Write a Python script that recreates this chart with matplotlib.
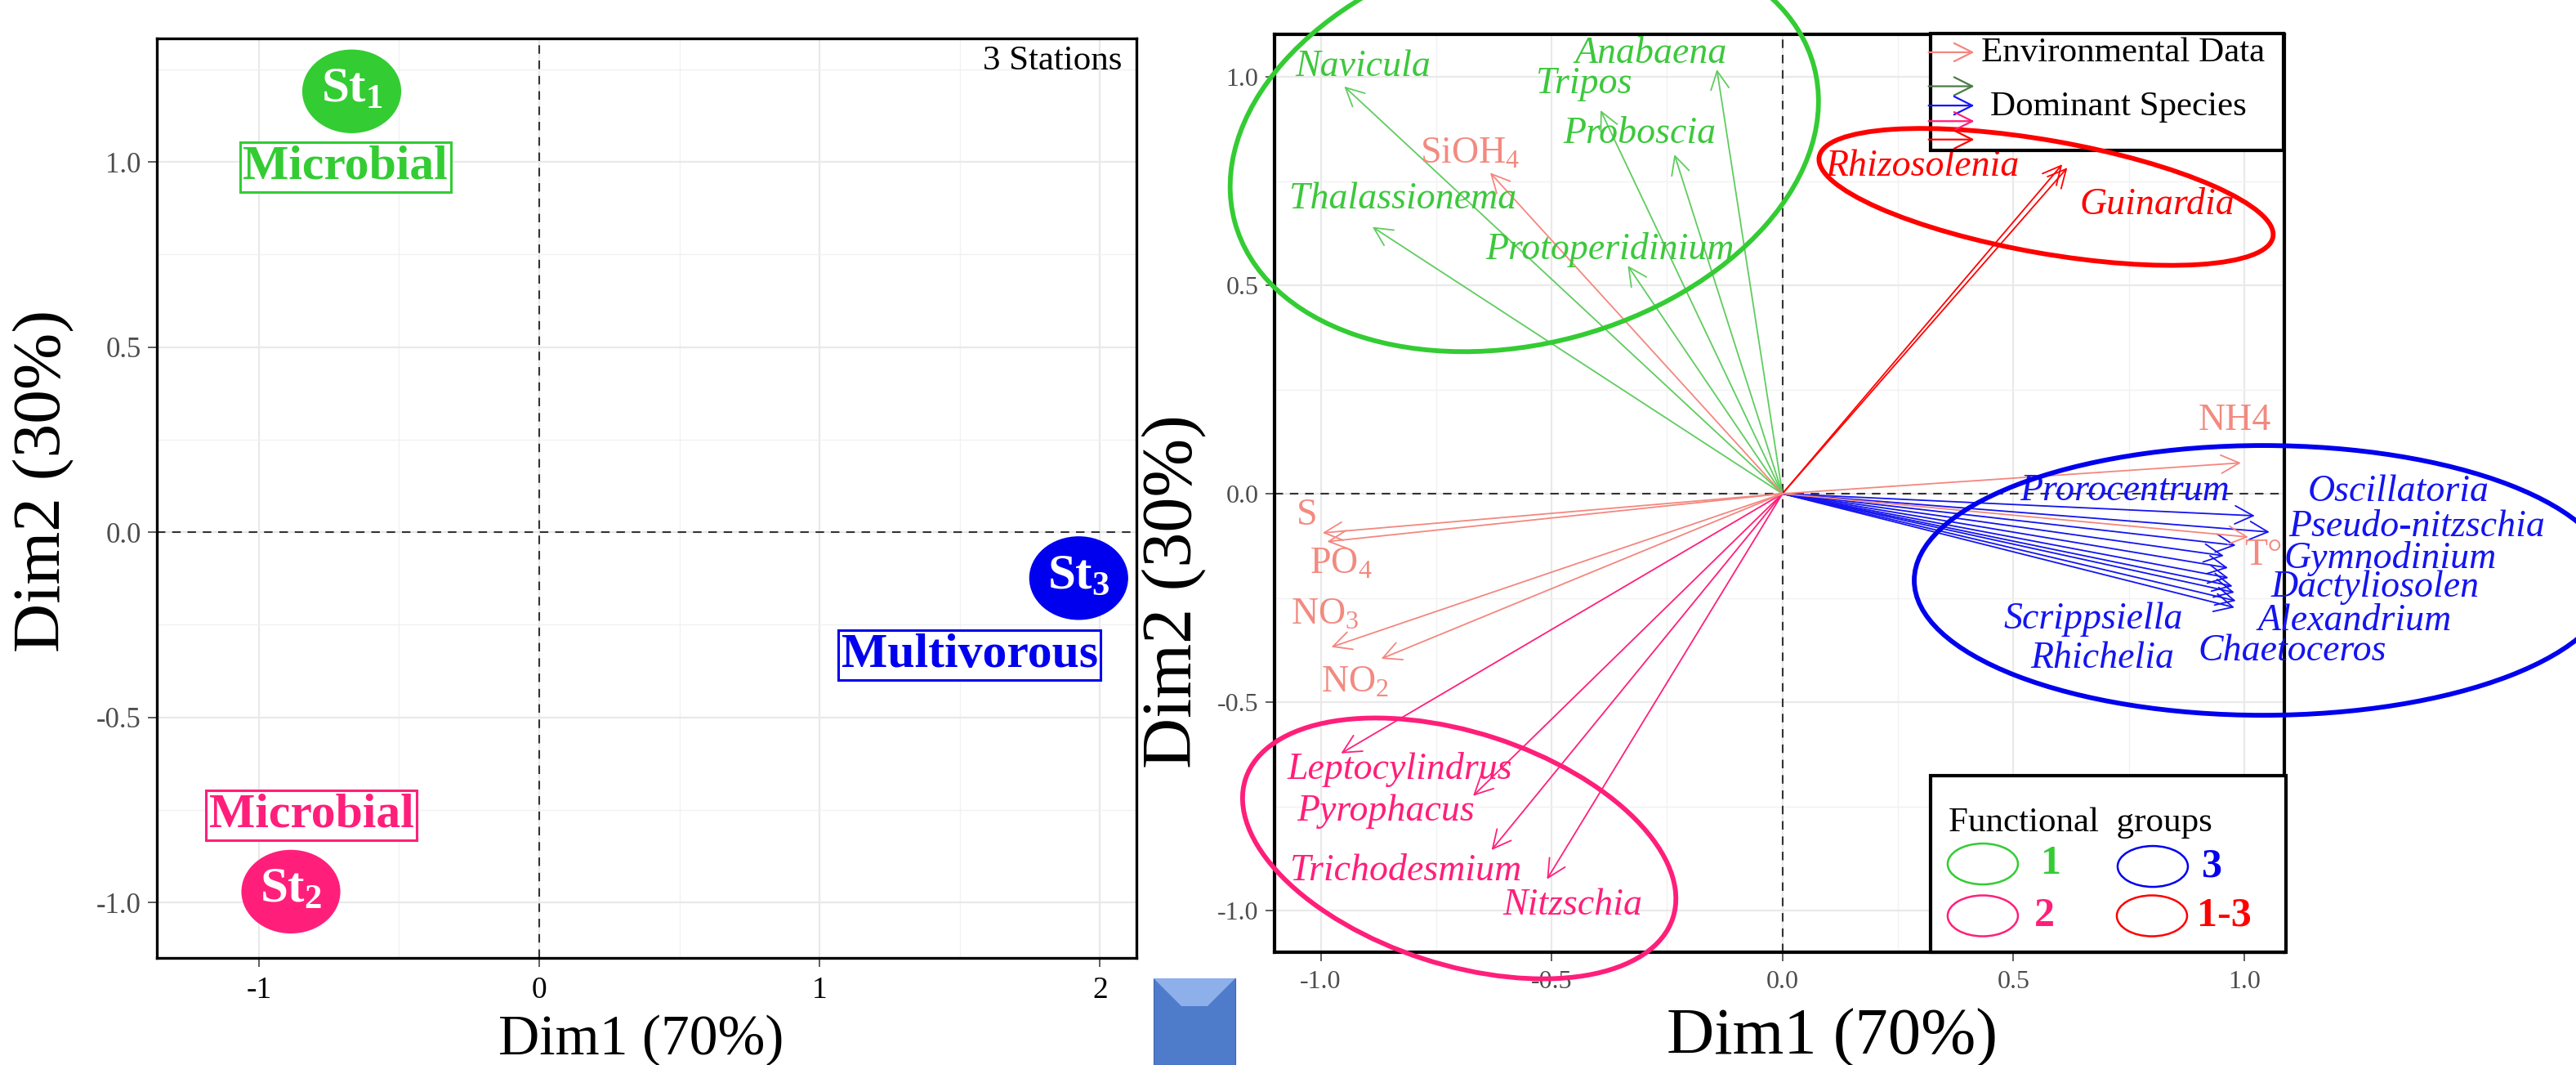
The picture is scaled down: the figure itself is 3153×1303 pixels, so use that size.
import matplotlib.pyplot as plt
from matplotlib.patches import Ellipse, Rectangle, Polygon
from matplotlib.transforms import ScaledTranslation

plt.rcParams['font.family'] = ['Liberation Serif', 'DejaVu Serif']
plt.rcParams['mathtext.fontset'] = 'custom'
plt.rcParams['mathtext.rm'] = 'Liberation Serif'
plt.rcParams['mathtext.it'] = 'Liberation Serif:italic'
plt.rcParams['mathtext.bf'] = 'Liberation Serif:bold'

# ---------------- data: left panel (stations) ----------------
station_names = [r"$\mathbf{St_1}$", r"$\mathbf{St_2}$", r"$\mathbf{St_3}$"]
station_x = [-0.669, -0.886, 1.924]
station_y = [1.191, -0.971, -0.124]
feeding_names = ["Microbial", "Microbial", "Multivorous"]
feeding_x = [-0.692, -0.812, 1.535]
feeding_y = [0.986, -0.765, -0.332]
station_colors = ["#33cc33", "#ff1f7a", "#0000ee"]

# ---------------- data: right panel (variables) ----------------
env_names = ["S", r"PO$_4$", r"NO$_3$", r"NO$_2$", r"SiOH$_4$", "NH4", "T°"]
env_x = [-0.996, -0.986, -0.977, -0.869, -0.633, 0.993, 1.009]
env_y = [-0.094, -0.115, -0.368, -0.396, 0.770, 0.074, -0.104]
env_lab_x = [-1.030, -0.956, -0.991, -0.925, -0.676, 0.979, 1.041]
env_lab_y = [-0.052, -0.169, -0.292, -0.453, 0.814, 0.175, -0.149]

g1_names = ["Navicula", "Anabaena", "Tripos", "Proboscia", "Thalassionema", "Protoperidinium"]
g1_x = [-0.949, -0.142, -0.394, -0.234, -0.888, -0.335]
g1_y = [0.977, 1.018, 0.920, 0.814, 0.640, 0.547]
g1_lab_x = [-0.908, -0.285, -0.430, -0.310, -0.822, -0.374]
g1_lab_y = [1.024, 1.055, 0.983, 0.863, 0.706, 0.586]

g2_names = ["Leptocylindrus", "Pyrophacus", "Trichodesmium", "Nitzschia"]
g2_x = [-0.956, -0.670, -0.630, -0.510]
g2_y = [-0.623, -0.725, -0.855, -0.925]
g2_lab_x = [-0.828, -0.860, -0.815, -0.454]
g2_lab_y = [-0.661, -0.763, -0.906, -0.988]

g3_x = [1.023, 1.055, 0.982, 0.956, 0.965, 0.966, 0.975, 0.979, 0.982, 0.979]
g3_y = [-0.053, -0.092, -0.124, -0.149, -0.178, -0.202, -0.222, -0.237, -0.257, -0.273]
g3_names = ["Prorocentrum", "Oscillatoria", "Pseudo-nitzschia", "Gymnodinium", "Dactyliosolen",
            "Alexandrium", "Chaetoceros", "Scrippsiella", "Rhichelia"]
g3_lab_x = [0.741, 1.335, 1.374, 1.317, 1.284, 1.239, 1.105, 0.674, 0.693]
g3_lab_y = [0.006, 0.004, -0.080, -0.155, -0.225, -0.306, -0.378, -0.301, -0.395]

g13_names = ["Rhizosolenia", "Guinardia"]
g13_x = [0.606, 0.617]
g13_y = [0.790, 0.782]
g13_lab_x = [0.303, 0.812]
g13_lab_y = [0.784, 0.692]

c_env, c_env_txt = "#f4877f", "#f28a80"
c_g1, c_g1_line = "#3cc83c", "#5fcc5f"
c_g2 = "#ff1f7a"
c_g3 = "#1414f0"
c_g13 = "#ff0000"

fig = plt.figure(figsize=(31.53, 13.03), dpi=100)
W, H = 3153, 1303


def style_axes(ax, lw, xcol, ycol, fs):
    ax.grid(True, which="major", color="#e9e9e9", lw=1.6, zorder=0)
    ax.grid(True, which="minor", color="#f1f1f1", lw=1.0, zorder=0)
    ax.set_axisbelow(True)
    ax.tick_params(which="minor", length=0)
    ax.tick_params(axis="x", colors="#444444", labelcolor=xcol, labelsize=fs, length=8, width=1.2, pad=8)
    ax.tick_params(axis="y", colors="#444444", labelcolor=ycol, labelsize=fs, length=8, width=1.2, pad=6)
    for s in ax.spines.values():
        s.set_linewidth(lw)
        s.set_color("black")
    ax.axhline(0, color="#333333", lw=1.5, ls=(0, (5, 4)), zorder=1)
    ax.axvline(0, color="#333333", lw=1.5, ls=(0, (5, 4)), zorder=1)


# ================= left panel =================
ax1 = fig.add_axes([192 / W, 131 / H, 1199 / W, 1125 / H])
ax1.set_xlim(-1.364, 2.13)
ax1.set_ylim(-1.15, 1.334)
ax1.set_xticks([-1, 0, 1, 2])
ax1.set_xticklabels(["-1", "0", "1", "2"])
ax1.set_yticks([-1.0, -0.5, 0.0, 0.5, 1.0])
ax1.set_yticklabels(["-1.0", "-0.5", "0.0", "0.5", "1.0"])
ax1.set_xticks([-0.5, 0.5, 1.5], minor=True)
ax1.set_yticks([-0.75, -0.25, 0.25, 0.75, 1.25], minor=True)
style_axes(ax1, 2.4, "black", "#4d4d4d", 25)
ax1.tick_params(axis="x", labelsize=27)

for name, sx, sy, fname, fx, fy, col in zip(station_names, station_x, station_y,
                                             feeding_names, feeding_x, feeding_y, station_colors):
    ax1.add_patch(Ellipse((sx, sy), 0.353, 0.226, facecolor=col, edgecolor="none", zorder=3))
    ax1.text(sx, sy + 0.005, name, color="white", fontsize=44, ha="center", va="center", zorder=4)
    ax1.text(fx, fy, fname, color=col, fontsize=43, fontweight="bold", ha="center", va="center",
             zorder=4, bbox=dict(boxstyle="square,pad=0.06", facecolor="white", edgecolor=col, lw=2.2))

ax1.text(2.08, 1.272, "3 Stations", fontsize=31, ha="right", va="center")
ax1.set_xlabel("Dim1 (70%)", fontsize=50)
ax1.set_ylabel("Dim2 (30%)", fontsize=60)
ax1.xaxis.set_label_coords(0.494, -0.090)
ax1.xaxis.label.set_va("center")
ax1.yaxis.set_label_coords(-0.115, 0.519)
ax1.yaxis.label.set_va("center")

# ================= right panel =================
ax2 = fig.add_axes([1560 / W, 138 / H, 1236 / W, 1123.5 / H])
ax2.set_xlim(-1.10, 1.087)
ax2.set_ylim(-1.10, 1.103)
ticks = [-1.0, -0.5, 0.0, 0.5, 1.0]
ax2.set_xticks(ticks)
ax2.set_xticklabels(["-1.0", "-0.5", "0.0", "0.5", "1.0"])
ax2.set_yticks(ticks)
ax2.set_yticklabels(["-1.0", "-0.5", "0.0", "0.5", "1.0"])
ax2.set_xticks([-0.75, -0.25, 0.25, 0.75], minor=True)
ax2.set_yticks([-0.75, -0.25, 0.25, 0.75], minor=True)
style_axes(ax2, 3.0, "#4d4d4d", "#4d4d4d", 23)


def arrow(ax, x, y, col, x0=0.0, y0=0.0, coords="data", lw=1.3, z=2):
    ax.annotate("", xy=(x, y), xytext=(x0, y0), xycoords=coords, textcoords=coords,
                arrowprops=dict(arrowstyle="->,head_length=0.8,head_width=0.4", color=col, lw=lw,
                                shrinkA=0, shrinkB=0, mutation_scale=20), zorder=z)


for x, y in zip(g1_x, g1_y):
    arrow(ax2, x, y, c_g1_line)
for x, y in zip(g2_x, g2_y):
    arrow(ax2, x, y, c_g2)
for x, y in zip(g3_x, g3_y):
    arrow(ax2, x, y, c_g3)
for x, y in zip(g13_x, g13_y):
    arrow(ax2, x, y, c_g13)
for x, y in zip(env_x, env_y):
    arrow(ax2, x, y, c_env)

lab_fs = 33
for names, lx, ly, col in [(g1_names, g1_lab_x, g1_lab_y, c_g1), (g2_names, g2_lab_x, g2_lab_y, c_g2),
                           (g3_names, g3_lab_x, g3_lab_y, c_g3), (g13_names, g13_lab_x, g13_lab_y, c_g13)]:
    for n, x, y in zip(names, lx, ly):
        ax2.text(x, y, n, color=col, fontsize=lab_fs, style="italic", ha="center", va="center", zorder=3)
for n, x, y in zip(env_names, env_lab_x, env_lab_y):
    ax2.text(x, y, n, color=c_env_txt, fontsize=lab_fs, ha="center", va="center", zorder=3)


def px_ellipse(ax, cx, cy, a_px, b_px, ang, col, lw, trans=None):
    t = fig.dpi_scale_trans + ScaledTranslation(cx, cy, trans if trans is not None else ax.transData)
    e = Ellipse((0, 0), 2 * a_px / 100, 2 * b_px / 100, angle=ang, transform=t,
                facecolor="none", edgecolor=col, lw=lw, clip_on=False, zorder=5)
    ax.add_artist(e)


# functional group outlines
px_ellipse(ax2, -0.559, 0.839, 367, 244, 15, "#33cc33", 4.2)
px_ellipse(ax2, 0.571, 0.712, 282, 69, -10, "#ff0000", 4.2)
px_ellipse(ax2, -0.700, -0.851, 275, 142, -18, c_g2, 4.2)
px_ellipse(ax2, 1.041, -0.208, 427, 165, 0, "#0000ee", 4.2)

# top legend box
ax2.add_patch(Rectangle((0.650, 0.873), 0.349, 0.127, transform=ax2.transAxes, facecolor="white",
                        edgecolor="black", lw=3.0, clip_on=False, zorder=4))
for yy, col in zip([0.980, 0.943, 0.922, 0.905, 0.885], [c_env, "#4a7a45", "#1414ff", c_g2, c_g13]):
    arrow(ax2, 0.693, yy, col, x0=0.6477, y0=yy, coords="axes fraction", lw=1.6, z=7)
ax2.text(0.700, 0.979, "Environmental Data", transform=ax2.transAxes, fontsize=31, va="center", zorder=6)
ax2.text(0.709, 0.921, "Dominant Species", transform=ax2.transAxes, fontsize=31, va="center", zorder=6)

# bottom legend box
ax2.add_patch(Rectangle((0.650, 0.0), 0.352, 0.192, transform=ax2.transAxes, facecolor="white",
                        edgecolor="black", lw=3.0, clip_on=False, zorder=4))
ax2.text(0.6675, 0.1406, "Functional  groups", transform=ax2.transAxes, fontsize=31, va="center", zorder=6)
for fx, fy, col, lab, tx in [(0.7014, 0.0961, "#33cc33", "1", 0.759), (0.8697, 0.0934, "#0000ee", "3", 0.918),
                             (0.7014, 0.0396, c_g2, "2", 0.752), (0.8689, 0.0396, "#ff0000", "1-3", 0.9134)]:
    px_ellipse(ax2, fx, fy, 43, 25, 0, col, 1.8, trans=ax2.transAxes)
    ax2.text(tx, fy, lab, transform=ax2.transAxes, color=col, fontsize=36, fontweight="bold",
             va="center", zorder=6)

ax2.set_xlabel("Dim1 (70%)", fontsize=58)
ax2.set_ylabel("Dim2 (30%)", fontsize=62)
ax2.xaxis.set_label_coords(0.552, -0.094)
ax2.xaxis.label.set_va("center")
ax2.yaxis.set_label_coords(-0.100, 0.393)
ax2.yaxis.label.set_va("center")

# bevelled blue button between the panels
fig.patches.append(Rectangle((1412 / W, 0), 100 / W, 106 / H, transform=fig.transFigure,
                             facecolor="#4f7bcb", edgecolor="#3f64a8", lw=0.8, figure=fig))
fig.patches.append(Polygon([(1412 / W, 106 / H), (1512 / W, 106 / H), (1478 / W, 72 / H), (1446 / W, 72 / H)],
                           closed=True, transform=fig.transFigure, facecolor="#8db0ea", edgecolor="none",
                           figure=fig))

fig.savefig("out.png", dpi=100)
